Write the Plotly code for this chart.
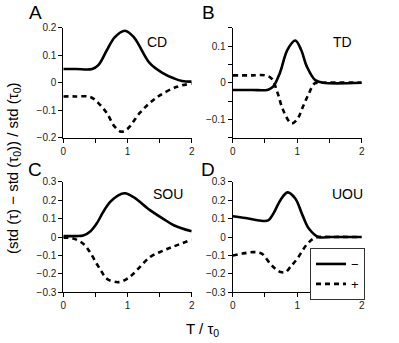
import plotly.graph_objects as go

# values
cd_x_minus = [0, 0.2, 0.45, 0.55, 0.68, 0.8, 0.96, 1.1, 1.35, 1.55, 1.72, 1.85, 2.0]
cd_y_minus = [0.05, 0.05, 0.05, 0.065, 0.119, 0.165, 0.189, 0.165, 0.07, 0.035, 0.016, 0.006, 0.004]
cd_x_plus = [0, 0.2, 0.42, 0.55, 0.68, 0.8, 0.9, 1.0, 1.19, 1.35, 1.51, 1.77, 2.0]
cd_y_plus = [-0.05, -0.05, -0.052, -0.075, -0.111, -0.16, -0.178, -0.168, -0.11, -0.073, -0.045, -0.015, -0.003]

td_x_minus = [0, 0.3, 0.55, 0.63, 0.73, 0.85, 0.97, 1.06, 1.15, 1.28, 1.4, 2.0]
td_y_minus = [-0.02, -0.02, -0.019, -0.01, 0.026, 0.09, 0.115, 0.09, 0.044, 0.007, 0.0, 0.0]
td_x_plus = [0, 0.3, 0.5, 0.6, 0.7, 0.78, 0.91, 1.0, 1.09, 1.18, 1.27, 1.4, 2.0]
td_y_plus = [0.02, 0.02, 0.02, 0.012, -0.03, -0.074, -0.111, -0.1, -0.065, -0.03, -0.002, 0.0, 0.0]

sou_x_minus = [0, 0.2, 0.31, 0.42, 0.52, 0.62, 0.73, 0.85, 0.96, 1.1, 1.35, 1.55, 1.72, 2.0]
sou_y_minus = [0.005, 0.005, 0.008, 0.03, 0.073, 0.135, 0.19, 0.225, 0.237, 0.215, 0.146, 0.1, 0.064, 0.031]
sou_x_plus = [0, 0.15, 0.31, 0.42, 0.52, 0.6, 0.68, 0.86, 1.0, 1.09, 1.35, 1.55, 1.72, 2.0]
sou_y_plus = [-0.004, -0.008, -0.036, -0.085, -0.145, -0.19, -0.227, -0.245, -0.225, -0.2, -0.109, -0.075, -0.051, -0.015]

uou_x_minus = [0, 0.2, 0.47, 0.55, 0.63, 0.74, 0.85, 0.97, 1.08, 1.18, 1.33, 1.5, 2.0]
uou_y_minus = [0.113, 0.103, 0.087, 0.09, 0.127, 0.2, 0.242, 0.209, 0.12, 0.046, 0.0, 0.0, 0.0]
uou_x_plus = [0, 0.15, 0.32, 0.45, 0.58, 0.66, 0.74, 0.82, 0.9, 1.0, 1.16, 1.29, 1.5, 2.0]
uou_y_plus = [-0.1, -0.09, -0.082, -0.09, -0.145, -0.172, -0.19, -0.19, -0.16, -0.118, -0.036, -0.003, 0.0, 0.0]

x_ticks = [0, 0.5, 1, 1.5, 2]
x_ticktext = ["0", "", "1", "", "2"]
y_ticks_a = [-0.2, -0.1, 0, 0.1, 0.2]
y_ticks_b = [-0.15, -0.1, -0.05, 0, 0.05, 0.1, 0.15]
y_ticktext_b = ["", "−0.1", "", "0", "", "0.1", ""]
y_ticks_cd = [-0.3, -0.2, -0.1, 0, 0.1, 0.2, 0.3]

panels = [
    # letter, name, x-, y-, x+, y+, yrange, yticks, yticktext
    ("A", "CD", cd_x_minus, cd_y_minus, cd_x_plus, cd_y_plus, [-0.2, 0.2], y_ticks_a, None),
    ("B", "TD", td_x_minus, td_y_minus, td_x_plus, td_y_plus, [-0.15, 0.15], y_ticks_b, y_ticktext_b),
    ("C", "SOU", sou_x_minus, sou_y_minus, sou_x_plus, sou_y_plus, [-0.3, 0.3], y_ticks_cd, None),
    ("D", "UOU", uou_x_minus, uou_y_minus, uou_x_plus, uou_y_plus, [-0.3, 0.3], y_ticks_cd, None),
]

W, H = 399, 343


def px(p):
    return p / W


def py(p):
    return 1 - p / H


# pixel boxes of each panel: left, right, top, bottom
boxes = [(63.3, 191.7, 27.7, 137.7), (232.7, 361.7, 27.7, 137.7),
         (63.3, 191.7, 181.7, 292.3), (232.7, 361.7, 181.7, 292.3)]
letter_pos = [(35, 13), (208, 13), (35, 169), (208, 169)]
name_pos = [(157, 42), (342, 42), (168, 194), (347, 194)]

FONT = "Liberation Sans, Arial, sans-serif"
fig = go.Figure()
anns = []
for i, (letter, name, xm, ym, xp, yp, yr, yt, ytt) in enumerate(panels):
    n = "" if i == 0 else str(i + 1)
    l, r, t, b = boxes[i]
    fig.add_trace(go.Scatter(x=xm, y=ym, mode="lines", name="−",
                             line=dict(color="black", width=2.6),
                             xaxis="x" + n, yaxis="y" + n, showlegend=(i == 3),
                             line_shape="spline"))
    fig.add_trace(go.Scatter(x=xp, y=yp, mode="lines", name="+",
                             line=dict(color="black", width=2.6, dash="5px,4px"),
                             xaxis="x" + n, yaxis="y" + n, showlegend=(i == 3),
                             line_shape="spline"))
    ax = dict(domain=[px(l), px(r)], range=[0, 2], tickvals=x_ticks, ticktext=x_ticktext,
              showline=True, linecolor="black", linewidth=1, ticks="outside", ticklen=4,
              tickcolor="black", showgrid=False, zeroline=False, anchor="y" + n,
              automargin=False, tickfont=dict(size=10, color="#222", family=FONT))
    ay = dict(domain=[py(b), py(t)], range=yr, tickvals=yt,
              showline=True, linecolor="black", linewidth=1, ticks="outside", ticklen=4,
              tickcolor="black", showgrid=False, zeroline=False, anchor="x" + n,
              automargin=False, tickfont=dict(size=10, color="#222", family=FONT))
    if ytt is not None:
        ay["ticktext"] = ytt
    fig.update_layout(**{"xaxis" + n: ax, "yaxis" + n: ay})
    lx, ly = letter_pos[i]
    anns.append(dict(x=px(lx), y=py(ly), text=letter,
                     font=dict(size=19, color="black", family=FONT)))
    nx, ny = name_pos[i]
    anns.append(dict(x=px(nx), y=py(ny), text=name,
                     font=dict(size=14, color="black", family=FONT)))

anns.append(dict(x=px(13), y=py(168), textangle=-90,
                 text="(std (τ) − std (τ<sub>0</sub>)) / std (τ<sub>0</sub>)",
                 font=dict(size=15, color="black", family=FONT)))
anns.append(dict(x=px(202), y=py(329),
                 text="T / τ<sub>0</sub>",
                 font=dict(size=15, color="black", family=FONT)))
for a in anns:
    a.update(xref="paper", yref="paper", xanchor="center", yanchor="middle", showarrow=False)

fig.update_layout(
    template="none",
    width=W, height=H, margin=dict(l=0, r=0, t=0, b=0),
    plot_bgcolor="white", paper_bgcolor="white",
    annotations=anns,
    legend=dict(x=px(310), y=py(248), xanchor="left", yanchor="top",
                bordercolor="#333", borderwidth=1, bgcolor="white",
                font=dict(size=13, color="black", family=FONT),
                itemwidth=30, tracegroupgap=0),
)
# drop the default 8px page margin so the figure fills the window exactly
fig.write_html("out.html", config={"displayModeBar": False},
               post_script="document.body.style.margin = '0';")
